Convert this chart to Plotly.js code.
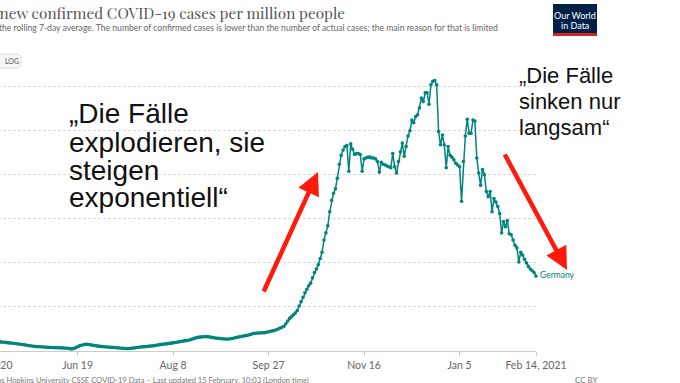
<!DOCTYPE html>
<html>
<head>
<meta charset="utf-8">
<script src="https://cdn.plot.ly/plotly-3.0.1.min.js"></script>
<style>
  html, body { margin: 0; padding: 0; width: 680px; height: 383px; overflow: hidden; background: #fff; }
  #chart { position: absolute; left: -100px; top: 0; width: 780px; height: 383px; }
</style>
</head>
<body>
<div id="chart"></div>
<script>
// ---- DATA: daily new confirmed COVID-19 cases per million (7-day avg), Germany ----
const startDate = '2020-04-20';
const apr2020 = [22, 21.5, 21, 20, 19, 18.5, 18, 17, 16.5, 16, 15];                // Apr 20-30
const may2020 = [14.5, 14, 13.5, 13, 12.5, 12, 11.5, 11, 10.6, 10.2, 10, 9.8, 9.5, 9.2, 9, 8.8, 8.5, 8.2, 7.9, 7.6, 7.3, 7, 6.7, 6.3, 6, 5.7, 5.4, 5.1, 4.9, 4.8, 4.7];
const jun2020 = [4.6, 4.4, 4.3, 4.1, 4.0, 3.9, 3.8, 3.8, 3.7, 3.6, 3.5, 3.4, 3.2, 3.0, 2.6, 2.4, 2.9, 3.8, 4.8, 5.8, 6.5, 7.1, 7.5, 7.6, 7.3, 6.9, 6.5, 6.1, 5.8, 5.5];
const jul2020 = [5.2, 5.0, 4.8, 4.6, 4.5, 4.3, 4.1, 4.0, 3.8, 3.6, 3.4, 3.2, 3.0, 2.8, 2.7, 2.8, 3.0, 3.3, 3.6, 3.9, 4.2, 4.5, 4.7, 4.9, 5.1, 5.3, 5.5, 5.7, 6.0, 6.4, 6.8];
const aug2020 = [7.2, 7.5, 7.8, 8.0, 8.3, 8.6, 8.9, 9.2, 9.6, 10.0, 10.4, 10.8, 11.2, 11.5, 11.8, 12.2, 12.8, 13.5, 14.3, 15.0, 15.5, 15.8, 16.0, 16.2, 16.3, 16.2, 16.0, 15.6, 15.2, 14.8, 14.5];
const sep2020 = [14.3, 14.0, 13.8, 13.6, 13.5, 13.6, 13.8, 14.2, 14.8, 15.4, 15.8, 16.2, 16.6, 17.0, 17.4, 17.9, 18.5, 19.2, 19.8, 20.1, 20.3, 20.5, 20.6, 20.7, 20.8, 21.2, 21.8, 22.3, 22.8, 23.2];
const oct2020 = [24, 25, 26, 27, 28, 31, 34, 37, 39, 41, 43, 46, 51, 56, 61, 66, 70, 74, 77, 83, 89, 93, 98, 105, 112, 126, 134, 142, 158, 171, 179];
const nov2020 = [184, 196, 212, 222, 228, 232, 233, 204, 235, 229, 223, 224, 224, 223, 204, 218, 219, 220, 220, 219, 219, 218, 215, 203, 214, 212, 211, 210, 209, 208];
const dec2020 = [224, 209, 202, 215, 226, 236, 221, 232, 244, 250, 262, 259, 266, 268, 276, 287, 283, 293, 293, 280, 302, 306, 307, 302, 249, 234, 245, 234, 208, 232, 222];
const jan2021 = [220, 217, 213, 211, 209, 170, 215, 244, 263, 247, 247, 262, 261, 219, 202, 188, 206, 200, 181, 175, 181, 158, 173, 169, 164, 156, 134, 147, 141, 148, 133];
const feb2021 = [132, 126, 120, 117, 101, 112, 109, 104, 100, 96, 93, 91, 89, 85];  // Feb 1-14

const tickDates = ['2020-04-30', '2020-06-19', '2020-08-08', '2020-09-27', '2020-11-16', '2021-01-05', '2021-02-14'];
const tickLabels = ['Apr 30, 2020', 'Jun 19', 'Aug 8', 'Sep 27', 'Nov 16', 'Jan 5', 'Feb 14, 2021'];
const yTicks = [0, 50, 100, 150, 200, 250, 300];
const seriesName = 'Germany';

// ---- build series ----
const values = [].concat(apr2020, may2020, jun2020, jul2020, aug2020, sep2020, oct2020, nov2020, dec2020, jan2021, feb2021);
const dates = [];
const d0 = new Date(startDate + 'T00:00:00Z');
for (let i = 0; i < values.length; i++) {
  const d = new Date(d0.getTime() + i * 86400000);
  dates.push(d.toISOString().slice(0, 10));
}

// ---- geometry (window pixels) ----
const PL = -37, PR = 536, PT = 69, PB = 351;
const px = w => (w - PL) / (PR - PL);
const py = h => (PB - h) / (PB - PT);

const teal = '#00847e';
const red = '#ff1a0a';
const bigFont = 'Liberation Sans, Arial, Helvetica, sans-serif';

const ann = [];
function txt(text, x, y, opts) {
  ann.push(Object.assign({
    text: text, xref: 'paper', yref: 'paper', x: px(x), y: py(y),
    xanchor: 'left', yanchor: 'middle', showarrow: false,
    font: { family: 'Lato, sans-serif', size: 10, color: '#666' }
  }, opts || {}));
}

// Title / subtitle / footer
txt('Daily new confirmed COVID-19 cases per million people', 347, 13,
  { xanchor: 'right', font: { family: '"Playfair Display", "Liberation Serif", "DejaVu Serif", serif', size: 15.3, color: '#555' } });
txt('Shown is the rolling 7-day average. The number of confirmed cases is lower than the number of actual cases; the main reason for that is limited', 500, 28,
  { xanchor: 'right', font: { family: 'Lato, sans-serif', size: 8.6, color: '#666' } });
txt('Source: Johns Hopkins University CSSE COVID-19 Data – Last updated 15 February, 10:03 (London time)', 311, 380,
  { xanchor: 'right', font: { family: 'Lato, sans-serif', size: 7.6, color: '#777' } });
txt('CC BY', 573, 380, { font: { family: 'Lato, sans-serif', size: 8, color: '#777' } });
txt('LOG', 3, 61, { font: { family: 'Lato, sans-serif', size: 7, color: '#555' } });

// Logo text
txt('Our World', 575, 15, { xanchor: 'center', font: { family: 'Lato, sans-serif', size: 9, color: '#fff' } });
txt('in Data', 575, 25.5, { xanchor: 'center', font: { family: 'Lato, sans-serif', size: 9, color: '#fff' } });

// Series label
txt(seriesName, 538, 275, { font: { family: 'Lato, sans-serif', size: 8.5, color: teal } });

// Slide overlay texts
const leftLines = ['„Die Fälle', 'explodieren, sie', 'steigen', 'exponentiell“'];
const leftY = [114, 142, 170, 197];
leftLines.forEach((t, i) => txt(t, 67, leftY[i], { font: { family: bigFont, size: 28, color: '#111' } }));
const rightLines = ['„Die Fälle', 'sinken nur', 'langsam“'];
const rightY = [75, 101, 127];
rightLines.forEach((t, i) => txt(t, 517, rightY[i], { font: { family: bigFont, size: 22, color: '#111' } }));

// Red arrows
ann.push({ text: '', xref: 'paper', yref: 'paper', x: px(318), y: py(172), ax: 263 - 318, ay: 293 - 172,
  showarrow: true, arrowhead: 2, arrowsize: 1, arrowwidth: 4.5, arrowcolor: red, standoff: 0 });
ann.push({ text: '', xref: 'paper', yref: 'paper', x: px(567), y: py(270), ax: 504 - 567, ay: 153 - 270,
  showarrow: true, arrowhead: 2, arrowsize: 1, arrowwidth: 4.5, arrowcolor: red, standoff: 0 });

const shapes = [
  // Logo
  { type: 'rect', xref: 'paper', yref: 'paper', x0: px(553), x1: px(597), y0: py(36), y1: py(4),
    fillcolor: '#002147', line: { width: 0 } },
  { type: 'rect', xref: 'paper', yref: 'paper', x0: px(553), x1: px(597), y0: py(36), y1: py(33),
    fillcolor: '#ce261e', line: { width: 0 } },
  // LOG button
  { type: 'path', xref: 'paper', yref: 'paper',
    path: `M ${px(-20)} ${py(54)} L ${px(17)} ${py(54)} Q ${px(21)} ${py(54)} ${px(21)} ${py(58)} L ${px(21)} ${py(64)} Q ${px(21)} ${py(68)} ${px(17)} ${py(68)} L ${px(-20)} ${py(68)} Z`,
    fillcolor: '#f7f7f7', line: { color: '#ddd', width: 1 } }
];

const trace = {
  x: dates, y: values, type: 'scatter', mode: 'lines+markers', name: seriesName,
  line: { color: teal, width: 1.5 },
  marker: { color: teal, size: 3.6 },
  cliponaxis: false, hoverinfo: 'skip'
};

const layout = {
  width: 780, height: 383,
  margin: { l: 63, r: 144, t: 69, b: 32, pad: 0 },
  paper_bgcolor: '#fff', plot_bgcolor: '#fff',
  showlegend: false,
  xaxis: {
    type: 'date', range: ['2020-04-20', '2021-02-14'],
    tickvals: tickDates, ticktext: tickLabels,
    showgrid: false, zeroline: false,
    showline: true, linecolor: '#ccc', linewidth: 1,
    ticks: 'outside', ticklen: 4, tickcolor: '#ccc',
    tickfont: { family: 'Lato, sans-serif', size: 10.5, color: '#666' }
  },
  yaxis: {
    range: [0, 320], tickvals: yTicks,
    showgrid: true, gridcolor: '#d9d9d9', griddash: '3px,2px', gridwidth: 1,
    zeroline: false, showline: false,
    tickfont: { family: 'Lato, sans-serif', size: 10, color: '#666' }
  },
  annotations: ann,
  shapes: shapes
};

Plotly.newPlot('chart', [trace], layout, { displayModeBar: false, staticPlot: true });
</script>
</body>
</html>
